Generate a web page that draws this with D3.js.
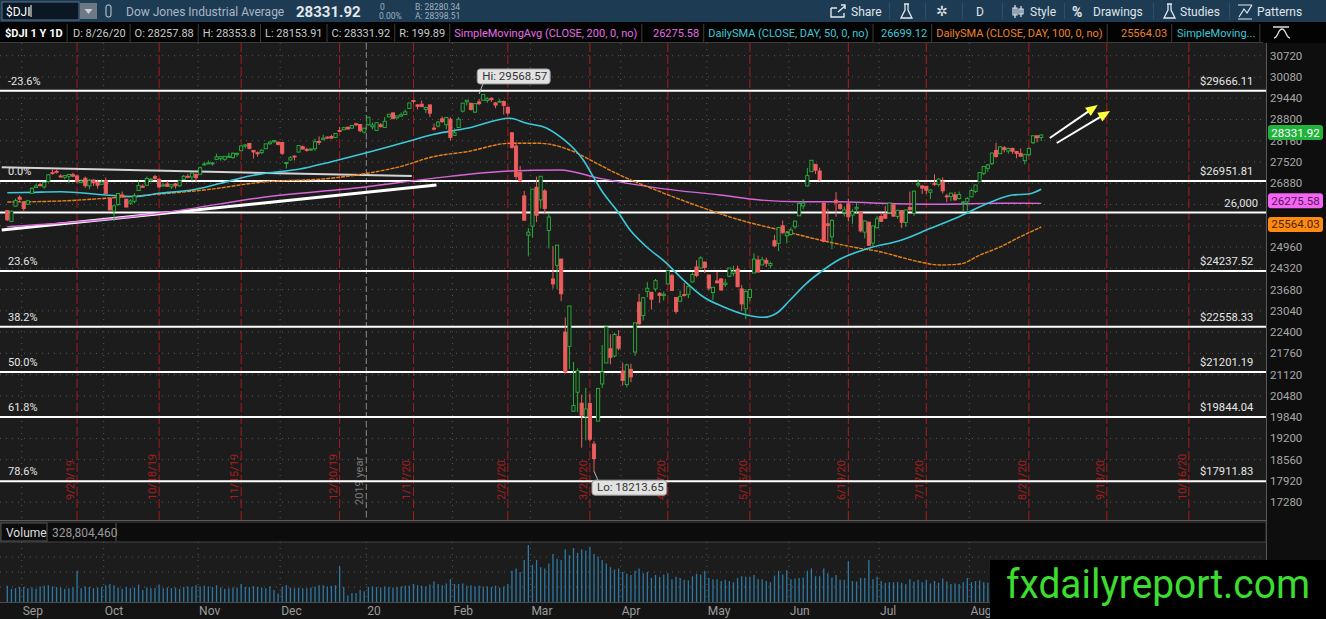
<!DOCTYPE html>
<html>
<head>
<meta charset="utf-8">
<script src="https://cdn.jsdelivr.net/npm/d3@7"></script>
<style>
  html, body { margin: 0; padding: 0; background: #0e0e0e; overflow: hidden; }
  svg { display: block; }
  text { font-family: Roboto, "Open Sans", sans-serif; }
</style>
</head>
<body>
<div id="chart"></div>
<script>
// daily candles: date, open, high, low, close
const candles = [
  ['2019-08-27',26063,26071,25744,25778],['2019-08-28',25730,26066,25710,26036],['2019-08-29',26190,26420,26180,26362],['2019-08-30',26460,26520,26330,26403],
  ['2019-09-03',26300,26320,26050,26118],['2019-09-04',26250,26380,26230,26355],['2019-09-05',26580,26760,26580,26728],['2019-09-06',26750,26860,26750,26797],
  ['2019-09-09',26840,26900,26780,26836],['2019-09-10',26770,26910,26720,26909],['2019-09-11',26940,27140,26900,27137],['2019-09-12',27200,27300,27140,27182],
  ['2019-09-13',27240,27300,27170,27220],['2019-09-16',27100,27150,27050,27077],['2019-09-17',27060,27120,27000,27111],['2019-09-18',27090,27150,26880,27147],
  ['2019-09-19',27140,27200,27060,27095],['2019-09-20',27100,27140,26880,26935],['2019-09-23',26900,27000,26880,26950],['2019-09-24',27030,27080,26740,26808],
  ['2019-09-25',26800,27010,26700,26971],['2019-09-26',26980,27000,26800,26891],['2019-09-27',26910,26990,26720,26820],['2019-09-30',26850,26990,26830,26917],
  ['2019-10-01',26960,27050,26570,26573],['2019-10-02',26430,26440,26050,26079],['2019-10-03',26040,26210,25740,26201],['2019-10-04',26240,26580,26200,26574],
  ['2019-10-07',26530,26630,26440,26478],['2019-10-08',26400,26420,26160,26164],['2019-10-09',26280,26400,26230,26346],['2019-10-10',26340,26580,26280,26497],
  ['2019-10-11',26660,26960,26660,26817],['2019-10-14',26790,26850,26740,26787],['2019-10-15',26820,27080,26810,27025],['2019-10-16',27000,27040,26920,27002],
  ['2019-10-17',27080,27130,26980,27026],['2019-10-18',27000,27020,26740,26770],['2019-10-21',26800,26880,26780,26828],['2019-10-22',26860,26950,26770,26788],
  ['2019-10-23',26770,26840,26710,26834],['2019-10-24',26860,26890,26720,26806],['2019-10-25',26800,26990,26770,26958],['2019-10-28',27000,27130,26990,27091],
  ['2019-10-29',27090,27160,27030,27071],['2019-10-30',27070,27210,26950,27187],['2019-10-31',27150,27170,26900,27046],
  ['2019-11-01',27150,27380,27150,27347],['2019-11-04',27440,27510,27410,27462],['2019-11-05',27480,27570,27470,27493],['2019-11-06',27470,27520,27410,27493],
  ['2019-11-07',27600,27770,27580,27675],['2019-11-08',27630,27690,27560,27681],['2019-11-11',27600,27700,27560,27691],['2019-11-12',27690,27800,27660,27691],
  ['2019-11-13',27650,27810,27620,27784],['2019-11-14',27760,27800,27680,27782],['2019-11-15',27860,28010,27850,28005],['2019-11-18',28000,28050,27930,28036],
  ['2019-11-19',28080,28090,27900,27934],['2019-11-20',27870,27880,27620,27821],['2019-11-21',27800,27840,27680,27766],['2019-11-22',27800,27900,27760,27876],
  ['2019-11-25',27920,28070,27920,28066],['2019-11-26',28070,28150,28040,28122],['2019-11-27',28130,28170,28090,28164],['2019-11-29',28120,28130,28020,28051],
  ['2019-12-02',28110,28110,27730,27783],['2019-12-03',27500,27530,27320,27503],['2019-12-04',27580,27700,27570,27650],['2019-12-05',27700,27710,27570,27678],
  ['2019-12-06',27820,28020,27810,28015],['2019-12-09',27980,28020,27900,27910],['2019-12-10',27900,27950,27830,27882],['2019-12-11',27880,27930,27860,27911],
  ['2019-12-12',27920,28220,27860,28132],['2019-12-13',28140,28290,28030,28135],['2019-12-16',28190,28340,28190,28236],['2019-12-17',28270,28290,28210,28267],
  ['2019-12-18',28290,28340,28220,28239],['2019-12-19',28260,28380,28240,28377],['2019-12-20',28470,28580,28430,28455],['2019-12-23',28490,28580,28490,28552],
  ['2019-12-24',28570,28580,28500,28515],['2019-12-26',28540,28630,28530,28621],['2019-12-27',28670,28700,28600,28645],['2019-12-30',28650,28650,28420,28462],
  ['2019-12-31',28420,28550,28380,28538],
  ['2020-01-02',28640,28870,28620,28869],['2020-01-03',28580,28710,28500,28635],['2020-01-06',28470,28710,28460,28703],['2020-01-07',28640,28690,28560,28584],
  ['2020-01-08',28560,28870,28560,28745],['2020-01-09',28880,28970,28860,28957],['2020-01-10',29000,29000,28820,28824],['2020-01-13',28850,28910,28820,28907],
  ['2020-01-14',28900,29010,28880,28940],['2020-01-15',28950,29100,28950,29030],['2020-01-16',29130,29300,29130,29298],['2020-01-17',29370,29380,29280,29348],
  ['2020-01-21',29240,29260,29100,29196],['2020-01-22',29260,29370,29180,29186],['2020-01-23',29100,29190,28990,29160],['2020-01-24',29240,29240,28870,28990],
  ['2020-01-27',28540,28680,28470,28536],['2020-01-28',28600,28760,28560,28723],['2020-01-29',28820,28890,28700,28734],['2020-01-30',28640,28880,28510,28859],
  ['2020-01-31',28810,28860,28170,28256],
  ['2020-02-03',28320,28530,28310,28400],['2020-02-04',28560,28870,28560,28808],['2020-02-05',29050,29300,29010,29291],['2020-02-06',29330,29380,29220,29380],
  ['2020-02-07',29290,29290,29070,29103],['2020-02-10',29020,29280,29000,29277],['2020-02-11',29330,29420,29230,29276],['2020-02-12',29380,29568.57,29370,29551],
  ['2020-02-13',29370,29470,29300,29423],['2020-02-14',29440,29460,29330,29398],['2020-02-18',29300,29330,29140,29232],['2020-02-19',29320,29410,29320,29348],
  ['2020-02-20',29340,29370,28950,29220],['2020-02-21',29170,29170,28920,28992],['2020-02-24',28400,28410,27920,27961],['2020-02-25',28000,28110,27000,27081],
  ['2020-02-26',27200,27400,26920,26958],['2020-02-27',26500,26650,25770,25767],['2020-02-28',25320,25530,24680,25409],
  ['2020-03-02',25590,26710,25240,26703],['2020-03-03',26760,27080,25710,25917],['2020-03-04',26380,27100,26120,27091],['2020-03-05',26650,26700,25980,26121],
  ['2020-03-06',25460,25980,24920,25865],['2020-03-09',24000,24990,23710,23851],['2020-03-10',24410,25020,23690,25018],['2020-03-11',24600,24600,23330,23553],
  ['2020-03-12',22400,22840,21150,21201],['2020-03-13',21970,23190,21290,23186],['2020-03-16',20020,21500,20000,20189],['2020-03-17',20590,21310,19990,21237],
  ['2020-03-18',20260,20520,18920,19899],['2020-03-19',19860,20720,19140,20087],['2020-03-20',20250,20530,19120,19174],['2020-03-23',19030,19120,18213.65,18592],
  ['2020-03-24',19720,20710,19720,20705],['2020-03-25',20840,22010,20720,21201],['2020-03-26',21470,22600,21470,22552],['2020-03-27',21900,22330,21430,21637],
  ['2020-03-30',21680,22380,21640,22327],['2020-03-31',22270,22460,21850,21917],
  ['2020-04-01',21230,21480,20790,20944],['2020-04-02',20820,21450,20740,21413],['2020-04-03',21280,21450,20890,21053],['2020-04-06',21800,22700,21690,22680],
  ['2020-04-07',23300,23550,22610,22654],['2020-04-08',22900,23450,22750,23434],['2020-04-09',23620,23900,23450,23719],['2020-04-13',23600,23600,23080,23391],
  ['2020-04-14',23700,24000,23620,23950],['2020-04-15',23570,23600,23280,23504],['2020-04-16',23500,23620,23350,23538],['2020-04-17',23850,24260,23850,24242],
  ['2020-04-20',24100,24160,23640,23650],['2020-04-21',23440,23440,22950,23019],['2020-04-22',23330,23650,23300,23476],['2020-04-23',23530,23880,23470,23515],
  ['2020-04-24',23540,23800,23420,23775],['2020-04-27',23910,24200,23890,24134],['2020-04-28',24360,24560,24050,24102],['2020-04-29',24330,24680,24310,24634],
  ['2020-04-30',24510,24520,24180,24346],
  ['2020-05-01',24120,24120,23650,23724],['2020-05-04',23590,23760,23360,23750],['2020-05-05',23940,24210,23870,23883],['2020-05-06',24000,24030,23660,23665],
  ['2020-05-07',23830,24000,23760,23876],['2020-05-08',24080,24330,24050,24331],['2020-05-11',24170,24400,24080,24222],['2020-05-12',24300,24400,23750,23765],
  ['2020-05-13',23700,23820,23030,23248],['2020-05-14',23100,23690,22790,23625],['2020-05-15',23440,23690,23330,23685],['2020-05-18',24180,24770,24180,24597],
  ['2020-05-19',24570,24700,24200,24207],['2020-05-20',24420,24670,24420,24576],['2020-05-21',24560,24640,24360,24474],['2020-05-22',24410,24520,24320,24465],
  ['2020-05-26',25150,25320,24970,24995],['2020-05-27',25070,25550,24840,25548],['2020-05-28',25600,25760,25340,25401],['2020-05-29',25300,25420,25070,25383],
  ['2020-06-01',25340,25550,25300,25475],['2020-06-02',25570,25750,25500,25743],['2020-06-03',25900,26270,25900,26270],['2020-06-04',26200,26400,26100,26282],
  ['2020-06-05',26800,27340,26780,27111],['2020-06-08',27230,27580,27230,27572],['2020-06-09',27450,27450,27160,27272],['2020-06-10',27250,27350,26950,26990],
  ['2020-06-11',26280,26300,25100,25128],['2020-06-12',25660,26110,25140,25606],['2020-06-15',25270,25800,24900,25763],['2020-06-16',26370,26620,25870,26290],
  ['2020-06-17',26240,26300,26080,26120],['2020-06-18',26000,26180,25880,26080],['2020-06-19',26260,26420,25730,25871],['2020-06-22',25920,26100,25660,26025],
  ['2020-06-23',26110,26300,25980,26156],['2020-06-24',26020,26030,25400,25446],['2020-06-25',25410,25760,25220,25746],['2020-06-26',25710,25720,25000,25016],
  ['2020-06-29',25080,25600,24980,25596],['2020-06-30',25540,25900,25520,25813],
  ['2020-07-01',25880,26000,25710,25735],['2020-07-02',25960,26200,25810,25827],['2020-07-06',26000,26300,25990,26287],['2020-07-07',26230,26230,25880,25890],
  ['2020-07-08',25880,26070,25810,26067],['2020-07-09',26060,26070,25530,25706],['2020-07-10',25700,26080,25570,26075],['2020-07-13',26150,26630,26050,26086],
  ['2020-07-14',25980,26660,25890,26643],['2020-07-15',26830,27000,26760,26870],['2020-07-16',26800,26820,26560,26735],['2020-07-17',26790,26800,26560,26672],
  ['2020-07-20',26610,26700,26400,26681],['2020-07-21',26880,27150,26800,26840],['2020-07-22',26840,27030,26780,27006],['2020-07-23',26920,27060,26570,26652],
  ['2020-07-24',26500,26560,26310,26470],['2020-07-27',26480,26590,26340,26585],['2020-07-28',26530,26620,26360,26379],['2020-07-29',26420,26630,26390,26540],
  ['2020-07-30',26300,26350,26020,26314],['2020-07-31',26320,26460,26020,26428],
  ['2020-08-03',26470,26720,26460,26664],['2020-08-04',26630,26830,26580,26828],['2020-08-05',26930,27220,26930,27202],['2020-08-06',27180,27390,27130,27387],
  ['2020-08-07',27330,27460,27230,27433],['2020-08-10',27470,27800,27430,27791],['2020-08-11',27870,28100,27650,27687],['2020-08-12',27770,28000,27760,27977],
  ['2020-08-13',27950,28000,27810,27897],['2020-08-14',27850,27950,27770,27931],['2020-08-17',27930,27950,27770,27845],['2020-08-18',27840,27850,27630,27778],
  ['2020-08-19',27780,27930,27670,27693],['2020-08-20',27560,27770,27450,27740],['2020-08-21',27740,27960,27690,27930],['2020-08-24',28100,28330,28060,28308],
  ['2020-08-25',28310,28320,28110,28248],['2020-08-26',28257.88,28353.8,28153.91,28331.92]
];

// daily volume, millions (same order as candles)
const volumes = [
  270,220,230,250,
  250,230,240,220,260,270,280,260,250,240,220,230,240,520,230,260,250,230,240,250,
  280,300,280,240,220,250,230,240,290,200,240,230,230,290,230,240,230,240,220,250,260,250,280,
  260,270,260,250,280,240,220,230,240,240,300,250,250,260,250,240,230,260,200,140,
  250,280,240,230,240,230,230,240,260,280,280,260,270,280,600,250,110,150,150,200,180,
  250,260,250,240,260,250,240,250,260,270,270,300,280,270,260,290,340,300,280,310,380,
  300,300,310,270,280,260,270,260,260,250,270,240,260,300,520,560,500,700,950,
  620,700,580,560,640,800,720,700,880,780,900,820,880,860,920,800,760,700,640,580,540,560,
  500,470,450,520,560,480,500,400,450,420,460,480,380,420,400,370,360,430,470,460,520,
  400,380,380,350,370,350,330,400,430,420,420,450,380,380,350,330,440,520,460,530,
  380,390,400,410,520,560,430,430,560,480,410,450,370,370,680,350,340,400,400,700,380,420,
  350,320,330,330,330,320,300,380,340,370,330,370,310,350,320,390,340,300,310,300,330,400,
  330,350,360,330,320,370,380,330,290,300,290,300,330,300,400,350,340,328.8
];

// moving averages: [bar index, value]
const sma50 = [[0,26596],[4,26600],[13,26626],[24,26527],[31,26480],[37,26578],[45,26677],[52,26879],[59,27099],[63,27180],[71,27300],[79,27530],[88,27812],[96,28083],[104,28355],[112,28535],[122.5,28836],[126.6,28685],[131.5,28535],[134.7,28282],[138,27933],[140.4,27580],[142.8,27078],[145.3,26578],[148.5,26075],[151.8,25473],[155.8,24970],[160.7,24471],[164.8,23968],[169.6,23465],[174.5,23164],[180.2,22915],[184.3,22845],[187.5,22966],[190.8,23366],[194.8,23869],[198.9,24269],[202.9,24591],[210,24923],[218,25172],[225,25524],[232,25875],[239,26277],[245,26527],[249,26557],[252,26699.12]];
const sma100 = [[0,26316],[12.8,26346],[23.8,26427],[37.2,26557],[49.4,26698],[61.6,26909],[78.7,27029],[87.7,27180],[95.7,27379],[103.8,27680],[112,27830],[122.5,28083],[129.8,28083],[137.1,27881],[144.4,27430],[149.3,27129],[159.1,26626],[168.8,26175],[178.6,25774],[188.3,25473],[198.1,25172],[207.8,24922],[212.7,24820],[217.6,24660],[222.5,24510],[227.3,24420],[232.2,24450],[237.1,24720],[241.9,24960],[246.8,25263],[252,25564.03]];
const sma200 = [[0,25573],[22.6,25774],[37.2,25976],[61.6,26446],[87.7,26777],[103.8,27029],[122.5,27249],[134.7,27279],[144.4,27029],[159.1,26728],[173.7,26527],[183.5,26376],[193.2,26325],[202.9,26325],[212.7,26277],[227.3,26247],[241.9,26277],[252,26275.58]];

const fibLevels = [['-23.6%',29666.11],['0.0%',26951.81],['23.6%',24237.52],['38.2%',22558.33],['50.0%',21201.19],['61.8%',19844.04],['78.6%',17911.83]];
const roundLevels = [26000];
const priceTicks = [17280,17920,18560,19200,19840,20480,21120,21760,22400,23040,23680,24320,24960,25600,26240,26880,27520,28160,28800,29440,30080,30720];
const months = ['2019-09','2019-10','2019-11','2019-12','2020-01','2020-02','2020-03','2020-04','2020-05','2020-06','2020-07','2020-08'];
const monthLabels = ['Sep','Oct','Nov','Dec','20','Feb','Mar','Apr','May','Jun','Jul','Aug'];
const expiries = ['2019-09-20','2019-10-18','2019-11-15','2019-12-20','2020-01-17','2020-02-21','2020-03-20','2020-04-17','2020-05-15','2020-06-19','2020-07-17','2020-08-21','2020-09-18','2020-10-16'];
const holidays = ['2020-09-07'];
// drawings: [bar index, price]
const trendLines = [
  { a: [-1.36, 27361], b: [98.6, 27099], color: '#d4d4d4', w: 2 },
  { a: [-1.36, 25473], b: [104.6, 26828], color: '#ffffff', w: 3 }
];
const arrows = [
  { a: [254.1, 28243], b: [265.8, 29236] },
  { a: [255.8, 28092], b: [268.8, 29056] }
];
const priceTags = [
  { value: 28331.92, fill: '#22b33c', text: '#ffffff' },
  { value: 26275.58, fill: '#f266f2', text: '#5a145a' },
  { value: 25564.03, fill: '#ff8a12', text: '#4a2200' }
];

const W = 1326, H = 619, plotR = 1266, mainTop = 43, mainBot = 520;
const dates = candles.map(d => d[0]);

function sessionIndex(ds) {
  const k = dates.indexOf(ds);
  if (k >= 0) return k;
  let i = dates.length - 1;
  let d = new Date(dates[i] + 'T12:00:00Z');
  const end = new Date(ds + 'T12:00:00Z');
  while (d < end) {
    d = new Date(d.getTime() + 864e5);
    const iso = d.toISOString().slice(0, 10), wd = d.getUTCDay();
    if (wd !== 0 && wd !== 6 && !holidays.includes(iso)) i++;
  }
  return i;
}

const x = d3.scaleLinear().domain([-1.54, 306.8]).range([1, plotR]);
const y = d3.scaleLinear().domain([17280, 30720]).range([502.2, 55.7]);
const yv = d3.scaleLinear().domain([0, 1000]).range([602, 542]);

const svg = d3.select('#chart').append('svg').attr('width', W).attr('height', H);

svg.append('defs').append('clipPath').attr('id', 'clipMain')
  .append('rect').attr('x', 0).attr('y', mainTop).attr('width', plotR).attr('height', mainBot - mainTop);

// backgrounds
svg.append('rect').attr('width', W).attr('height', H).attr('fill', '#0e0e0e');
svg.append('rect').attr('width', W).attr('height', 22).attr('fill', '#1d3b53');
svg.append('rect').attr('y', 22).attr('width', W).attr('height', 21).attr('fill', '#030303');
svg.append('rect').attr('y', mainTop).attr('width', plotR).attr('height', mainBot - mainTop).attr('fill', '#1c1c1c');
svg.append('rect').attr('y', 542).attr('width', plotR).attr('height', 61).attr('fill', '#1c1c1c');
svg.append('rect').attr('y', 603).attr('width', plotR).attr('height', 16).attr('fill', '#141414');

const main = svg.append('g').attr('clip-path', 'url(#clipMain)');

// dotted grid
main.selectAll('.hg').data(priceTicks).join('line')
  .attr('x1', 0).attr('x2', plotR).attr('y1', d => y(d)).attr('y2', d => y(d))
  .attr('stroke', '#575757').attr('stroke-dasharray', '1,5');

const monthStarts = months.map((m, k) => ({ i: dates.findIndex(d => d.startsWith(m)), label: monthLabels[k] }));
main.selectAll('.vg').data(monthStarts).join('line')
  .attr('x1', d => x(d.i - 0.5)).attr('x2', d => x(d.i - 0.5)).attr('y1', mainTop).attr('y2', mainBot)
  .attr('stroke', '#575757').attr('stroke-dasharray', '1,5');

// expiration lines
const exp = expiries.map(ds => {
  const [yy, mm, dd] = ds.split('-');
  return { i: sessionIndex(ds), label: `${+mm}/${+dd}/${yy.slice(2)}` };
});
main.selectAll('.ex').data(exp).join('line')
  .attr('x1', d => x(d.i)).attr('x2', d => x(d.i)).attr('y1', mainTop).attr('y2', mainBot)
  .attr('stroke', '#a81c1c').attr('stroke-dasharray', '9,3');
main.selectAll('.exl').data(exp).join('text')
  .attr('transform', d => `translate(${x(d.i) - 3},500) rotate(-90)`)
  .attr('font-size', 11).attr('fill', '#a81c1c').text(d => d.label);

// year break
const yearIdx = dates.findIndex(d => d.startsWith('2020'));
main.append('line').attr('x1', x(yearIdx - 0.5)).attr('x2', x(yearIdx - 0.5)).attr('y1', mainTop).attr('y2', mainBot)
  .attr('stroke', '#8a8a8a').attr('stroke-dasharray', '6,3');
main.append('text').attr('transform', `translate(${x(yearIdx - 0.5) - 3},505) rotate(-90)`)
  .attr('font-size', 11).attr('fill', '#7a7a7a').text('2019 year');

// fib + round levels
main.selectAll('.fib').data(fibLevels.map(d => d[1]).concat(roundLevels)).join('line')
  .attr('x1', 0).attr('x2', plotR).attr('y1', d => y(d)).attr('y2', d => y(d))
  .attr('stroke', '#ffffff').attr('stroke-width', 2);
main.selectAll('.fibl').data(fibLevels).join('text')
  .attr('x', 8).attr('y', d => y(d[1]) - 6).attr('font-size', 11).attr('fill', '#e6e6e6').text(d => d[0]);
main.selectAll('.fibr').data(fibLevels).join('text')
  .attr('x', 1200).attr('y', d => y(d[1]) - 6).attr('font-size', 11.2).attr('fill', '#e6e6e6')
  .text(d => '$' + d[1].toFixed(2));
main.selectAll('.rl').data(roundLevels).join('text')
  .attr('x', 1258).attr('y', d => y(d) - 6).attr('text-anchor', 'end').attr('font-size', 11.2).attr('fill', '#e6e6e6')
  .text(d => d3.format(',')(d));

// trend lines
main.selectAll('.tl').data(trendLines).join('line')
  .attr('x1', d => x(d.a[0])).attr('y1', d => y(d.a[1])).attr('x2', d => x(d.b[0])).attr('y2', d => y(d.b[1]))
  .attr('stroke', d => d.color).attr('stroke-width', d => d.w);

// moving averages
const line = d3.line().x(d => x(d[0])).y(d => y(d[1])).curve(d3.curveMonotoneX);
main.append('path').datum(sma200).attr('d', line).attr('fill', 'none').attr('stroke', '#d865d8').attr('stroke-width', 1.4);
main.append('path').datum(sma100).attr('d', line).attr('fill', 'none').attr('stroke', '#e8821c').attr('stroke-width', 1.4).attr('stroke-dasharray', '4,1');
main.append('path').datum(sma50).attr('d', line).attr('fill', 'none').attr('stroke', '#3cc9da').attr('stroke-width', 1.6);

// candles
const cg = main.selectAll('.c').data(candles).join('g');
const up = d => d[4] >= d[1];
cg.append('line')
  .attr('x1', (d, i) => x(i)).attr('x2', (d, i) => x(i))
  .attr('y1', d => y(d[2])).attr('y2', d => y(d[3]))
  .attr('stroke', d => up(d) ? '#27b13c' : '#ee5d5d').attr('stroke-width', 1);
cg.append('rect')
  .attr('x', (d, i) => x(i) - 1.6).attr('width', 3.2)
  .attr('y', d => y(Math.max(d[1], d[4])))
  .attr('height', d => Math.max(1, Math.abs(y(d[1]) - y(d[4]))))
  .attr('fill', d => up(d) ? '#1c1c1c' : '#ee5d5d')
  .attr('stroke', d => up(d) ? '#27b13c' : '#ee5d5d').attr('stroke-width', 0.9);

// arrows
arrows.forEach(a => {
  const x1 = x(a.a[0]), y1 = y(a.a[1]), x2 = x(a.b[0]), y2 = y(a.b[1]);
  const ang = Math.atan2(y2 - y1, x2 - x1);
  main.append('line').attr('x1', x1).attr('y1', y1).attr('x2', x2 - 6 * Math.cos(ang)).attr('y2', y2 - 6 * Math.sin(ang))
    .attr('stroke', '#ffffff').attr('stroke-width', 2);
  main.append('path').attr('d', 'M0,0 L-12,-5 L-12,5 Z').attr('fill', '#ffff3c')
    .attr('transform', `translate(${x2},${y2}) rotate(${ang * 180 / Math.PI})`);
});

// hi / lo tags
function tag(px, py, ty, label) {
  const g = main.append('g');
  const t = g.append('text').attr('x', px + 3).attr('y', ty + 11).attr('font-size', 11.5).attr('fill', '#333').text(label);
  const w = t.node().getComputedTextLength() + 8;
  g.insert('line', 'text').attr('x1', px).attr('y1', py).attr('x2', px + 4).attr('y2', ty + (ty < py ? 14 : 0)).attr('stroke', '#bbb');
  g.insert('rect', 'text').attr('x', px - 2).attr('y', ty).attr('width', w).attr('height', 15).attr('rx', 3)
    .attr('fill', '#e2e2e2').attr('stroke', '#9a9a9a');
}
const hiI = d3.maxIndex(candles, d => d[2]);
const loI = d3.minIndex(candles, d => d[3]);
tag(x(hiI) - 4, y(candles[hiI][2]), y(candles[hiI][2]) - 25, 'Hi: ' + candles[hiI][2].toFixed(2));
tag(x(loI), y(candles[loI][3]), y(candles[loI][3]) + 9, 'Lo: ' + candles[loI][3].toFixed(2));

// panel frame
svg.append('line').attr('x1', 0).attr('x2', plotR).attr('y1', mainBot + 0.5).attr('y2', mainBot + 0.5).attr('stroke', '#5a5a5a');
svg.append('line').attr('x1', plotR + 0.5).attr('x2', plotR + 0.5).attr('y1', mainTop).attr('y2', H).attr('stroke', '#5a5a5a');

// price axis (labels hidden under the study tags are skipped)
const hiddenTick = t => priceTags.some(p => Math.abs(y(t) - (y(p.value) - 2.5)) < 8);
svg.selectAll('.pt').data(priceTicks.filter(t => !hiddenTick(t))).join('text')
  .attr('x', 1270).attr('y', d => y(d) + 4).attr('font-size', 11.5).attr('fill', '#a8a8a8').text(d => d);
priceTags.forEach(p => {
  const cy = y(p.value) - 2.5;
  svg.append('rect').attr('x', 1268).attr('y', cy - 7.5).attr('width', 55).attr('height', 15).attr('rx', 3).attr('fill', p.fill);
  svg.append('text').attr('x', 1295.5).attr('y', cy + 4).attr('text-anchor', 'middle').attr('font-size', 11.5)
    .attr('fill', p.text).text(p.value.toFixed(2));
});

// volume header
svg.append('rect').attr('x', 0).attr('y', 522).attr('width', plotR).attr('height', 20).attr('fill', '#0c0c0c').attr('stroke', '#444');
svg.append('rect').attr('x', 1).attr('y', 523).attr('width', 46).attr('height', 18).attr('fill', '#0c0c0c').attr('stroke', '#555');
svg.append('line').attr('x1', 116).attr('x2', 116).attr('y1', 523).attr('y2', 541).attr('stroke', '#555');
svg.append('text').attr('x', 6).attr('y', 537).attr('font-size', 12).attr('fill', '#dddddd').text('Volume');
svg.append('text').attr('x', 52).attr('y', 537).attr('font-size', 12).attr('fill', '#9a9a9a').text(d3.format(',')(328804460));

// volume pane
const vol = svg.append('g');
vol.selectAll('.vgh').data([250, 500, 750]).join('line')
  .attr('x1', 0).attr('x2', plotR).attr('y1', d => yv(d)).attr('y2', d => yv(d))
  .attr('stroke', '#575757').attr('stroke-dasharray', '1,5');
vol.selectAll('.vgv').data(monthStarts).join('line')
  .attr('x1', d => x(d.i - 0.5)).attr('x2', d => x(d.i - 0.5)).attr('y1', 542).attr('y2', 602)
  .attr('stroke', '#575757').attr('stroke-dasharray', '1,5');
vol.selectAll('.vb').data(volumes).join('line')
  .attr('x1', (d, i) => x(i)).attr('x2', (d, i) => x(i))
  .attr('y1', yv(0)).attr('y2', d => yv(d))
  .attr('stroke', '#2c79a4').attr('stroke-width', 1.3);
svg.append('line').attr('x1', 0).attr('x2', plotR).attr('y1', 602.5).attr('y2', 602.5).attr('stroke', '#4a4a4a');

// month labels
svg.selectAll('.ml').data(monthStarts).join('text')
  .attr('x', d => x(d.i - 0.5) + 1).attr('y', 615).attr('font-size', 12).attr('fill', '#9c9c9c').text(d => d.label);

// watermark
svg.append('rect').attr('x', 990).attr('y', 560).attr('width', 336).attr('height', 59).attr('fill', '#000');
svg.append('text').attr('x', 1006).attr('y', 598).attr('font-family', '"Liberation Sans", Arial, sans-serif')
  .attr('font-size', 40).attr('textLength', 304).attr('lengthAdjust', 'spacingAndGlyphs')
  .attr('fill', '#3ddc30').text('fxdailyreport.com');

// ---- top toolbar ----
const tb = svg.append('g');
tb.append('rect').attr('x', 2).attr('y', 2).attr('width', 77).attr('height', 18).attr('fill', '#0b1722').attr('stroke', '#58718a');
tb.append('text').attr('x', 6).attr('y', 15.5).attr('font-size', 12).attr('fill', '#ffffff').text('$DJI');
tb.append('line').attr('x1', 31).attr('x2', 31).attr('y1', 5).attr('y2', 17).attr('stroke', '#fff');
tb.append('rect').attr('x', 80).attr('y', 3).attr('width', 17).attr('height', 16).attr('fill', '#6d7a86');
tb.append('path').attr('d', 'M84.5,9 L92.5,9 L88.5,14 Z').attr('fill', '#c9d0d6');
tb.append('rect').attr('x', 106).attr('y', 5).attr('width', 5).attr('height', 12).attr('rx', 2).attr('fill', 'none').attr('stroke', '#c8d2da');
tb.append('text').attr('x', 126).attr('y', 15.5).attr('font-size', 12).attr('fill', '#a9b7c4').text('Dow Jones Industrial Average');
tb.append('text').attr('x', 296).attr('y', 16.5).attr('font-size', 15).attr('font-weight', 'bold').attr('fill', '#e4e8ec').text('28331.92');
tb.append('text').attr('x', 380).attr('y', 9.5).attr('font-size', 8.5).attr('fill', '#9fb0bf').text('0');
tb.append('text').attr('x', 379).attr('y', 19).attr('font-size', 8.5).attr('fill', '#9fb0bf').text('0.00%');
tb.append('text').attr('x', 415).attr('y', 9.5).attr('font-size', 8.5).attr('fill', '#9fb0bf').text('B: 28280.34');
tb.append('text').attr('x', 415).attr('y', 19).attr('font-size', 8.5).attr('fill', '#9fb0bf').text('A: 28398.51');

const tools = [
  { x: 851, t: 'Share' }, { x: 976, t: 'D' }, { x: 1030, t: 'Style' },
  { x: 1093, t: 'Drawings' }, { x: 1180, t: 'Studies' }, { x: 1257, t: 'Patterns' }
];
tb.selectAll('.tt').data(tools).join('text')
  .attr('x', d => d.x).attr('y', 15.5).attr('font-size', 12).attr('fill', '#dfe5ea').text(d => d.t);
tb.selectAll('.sep').data([889, 925, 962, 1002, 1064, 1153, 1229]).join('line')
  .attr('x1', d => d + 0.5).attr('x2', d => d + 0.5).attr('y1', 3).attr('y2', 19).attr('stroke', '#2e4f69');
// icons
tb.append('path').attr('d', 'M831,8 h6 M831,8 v9 h13 v-4 M838,12 l7,-6 M841,5 h4 v4').attr('fill', 'none').attr('stroke', '#e2e8ee').attr('stroke-width', 1.4);
[902, 1165].forEach(ix => {
  tb.append('path').attr('d', `M${ix + 2},4 h5 M${ix + 3},4 v6 l-4,8 h11 l-4,-8 v-6`).attr('fill', 'none').attr('stroke', '#e2e8ee').attr('stroke-width', 1.3);
});
tb.append('text').attr('x', 936).attr('y', 16).attr('font-size', 14).attr('fill', '#e2e8ee').text('✲');
tb.append('path').attr('d', 'M1015,5 v13 M1013,8 h4 v7 h-4 Z M1021,6 v11 M1019,9 h4 v5 h-4 Z').attr('fill', 'none').attr('stroke', '#e2e8ee').attr('stroke-width', 1.2);
tb.append('text').attr('x', 1072).attr('y', 16.5).attr('font-size', 14).attr('font-weight', 'bold').attr('fill', '#e2e8ee').text('%');
tb.append('path').attr('d', 'M1238,5 h14 M1239,17 l5,-8 l3,4 l5,-8 M1238,19 h14').attr('fill', 'none').attr('stroke', '#e2e8ee').attr('stroke-width', 1.2);

// ---- legend row: cells kept at the reference x, pushed right only if needed ----
const leg = svg.append('g');
const legendCells = [
  { x: 5, t: '$DJI 1 Y 1D', c: '#ffffff', b: true },
  { x: 73, t: 'D: 8/26/20', c: '#c9c9c9' },
  { x: 133, t: 'O: 28257.88', c: '#c9c9c9' },
  { x: 200, t: 'H: 28353.8', c: '#c9c9c9' },
  { x: 265, t: 'L: 28153.91', c: '#c9c9c9' },
  { x: 328, t: 'C: 28331.92', c: '#c9c9c9' },
  { x: 398, t: 'R: 199.89', c: '#c9c9c9' },
  { x: 452, t: 'SimpleMovingAvg (CLOSE, 200, 0, no)', c: '#e56de5' },
  { x: 653, t: '26275.58', c: '#e56de5' },
  { x: 707, t: 'DailySMA (CLOSE, DAY, 50, 0, no)', c: '#3ec8d8' },
  { x: 881, t: '26699.12', c: '#3ec8d8' },
  { x: 925, t: 'DailySMA (CLOSE, DAY, 100, 0, no)', c: '#ee8424' },
  { x: 1121, t: '25564.03', c: '#ee8424' },
  { x: 1177, t: 'SimpleMoving...', c: '#3ec8d8' }
];
let prevEnd = 0;
legendCells.forEach(d => {
  const tx = Math.max(d.x, prevEnd + 5);
  const t = leg.append('text').attr('x', tx).attr('y', 37).attr('font-size', 11)
    .attr('font-weight', d.b ? 'bold' : 'normal').attr('fill', d.c).text(d.t);
  const end = tx + t.node().getComputedTextLength() + 4;
  leg.append('line').attr('x1', end + 0.5).attr('x2', end + 0.5).attr('y1', 24).attr('y2', 42).attr('stroke', '#3c3c3c');
  prevEnd = end;
});
leg.append('line').attr('x1', 0).attr('x2', 1263).attr('y1', 42.5).attr('y2', 42.5).attr('stroke', '#3c3c3c');
leg.append('path').attr('d', 'M1273,27 h16 M1274,38 c4,0 4,-9 8,-9 c4,0 4,9 8,9').attr('fill', 'none').attr('stroke', '#dddddd').attr('stroke-width', 1.3);
</script>
</body>
</html>
